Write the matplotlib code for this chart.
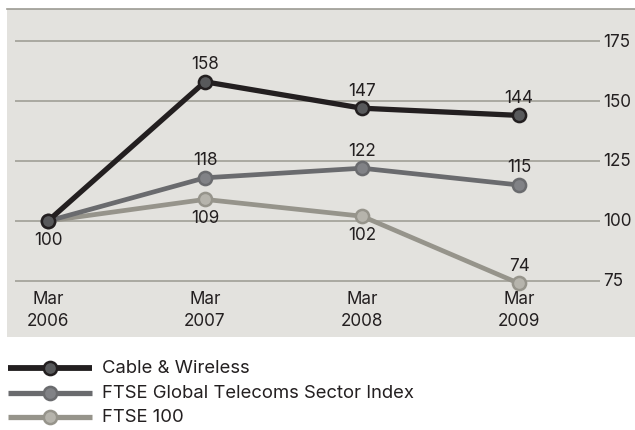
import matplotlib
matplotlib.use("Agg")
import matplotlib.pyplot as plt

plt.rcParams['font.family'] = ['Inter', 'DejaVu Sans']

periods = ["Mar\n2006", "Mar\n2007", "Mar\n2008", "Mar\n2009"]
series_names = ["Cable & Wireless", "FTSE Global Telecoms Sector Index", "FTSE 100"]
cable_wireless = [100, 158, 147, 144]
ftse_telecoms = [100, 118, 122, 115]
ftse_100 = [100, 109, 102, 74]
y_ticks = [75, 100, 125, 150, 175]
# label placement: +1 above marker, -1 below
label_pos = [
    [-1, 1, 1, 1],
    [0, 1, 1, 1],
    [0, -1, -1, 1],
]

line_colors = ["#231f20", "#6a6b6e", "#96948b"]
face_colors = ["#58595b", "#818286", "#b6b4ac"]
line_widths = [3.8, 3.4, 3.4]

FS = 12.3
W, H = 635, 431
fig = plt.figure(figsize=(W / 100, H / 100), dpi=100)
fig.patch.set_facecolor("white")

# main panel: pixel x 7..635, y 10..338
ax = fig.add_axes([7 / W, 1 - 338 / H, (W - 7) / W, (338 - 10) / H])
ax.set_facecolor("#e3e2de")
px_per_x = 157.0
x0px = 48 - 7
ax.set_xlim(-x0px / px_per_x, (W - 7 - x0px) / px_per_x)
px_per_y = 2.4
ax.set_ylim(100 - (338 - 222) / px_per_y, 100 + (222 - 10) / px_per_y)
for s in ["left", "right", "bottom"]:
    ax.spines[s].set_visible(False)
ax.spines["top"].set_color("#9c9b93")
ax.spines["top"].set_linewidth(1.2)
ax.set_xticks([])
ax.set_yticks([])

gx0 = (15 - 48) / px_per_x
gx1 = (600 - 48) / px_per_x
for t in y_ticks:
    ax.plot([gx0, gx1], [t, t], color="#a6a59c", lw=1.3, zorder=1, solid_capstyle="butt")
    ax.text(gx1 + 3 / px_per_x, t, str(t), ha="left", va="center", fontsize=FS, color="#231f20")

xs = list(range(len(periods)))
for i, p in enumerate(periods):
    ax.text(i, 100 - (300 - 222) / px_per_y, p.split("\n")[0], ha="center", va="center",
            fontsize=FS, color="#231f20")
    ax.text(i, 100 - (322 - 222) / px_per_y, p.split("\n")[1], ha="center", va="center",
            fontsize=FS, color="#231f20")

all_series = [cable_wireless, ftse_telecoms, ftse_100]
for k in [2, 1, 0]:
    vals = all_series[k]
    ax.plot(xs, vals, color=line_colors[k], lw=line_widths[k], marker="o", markersize=9.5,
            markerfacecolor=face_colors[k], markeredgecolor=line_colors[k], markeredgewidth=1.8,
            zorder=3 + (2 - k), solid_capstyle="butt")
    for i, v in enumerate(vals):
        pos = label_pos[k][i]
        if pos == 0:
            continue
        ax.annotate(str(v), (i, v), xytext=(0, 13 * pos), textcoords="offset points",
                    ha="center", va="center", fontsize=FS, color="#231f20", zorder=10)

# legend
lax = fig.add_axes([0, 0, 1, (H - 345) / H])
lax.set_xlim(0, W)
lax.set_ylim(H, 345)
lax.axis("off")
leg_y = [369, 394, 418]
for k in range(3):
    lax.plot([8, 92], [leg_y[k], leg_y[k]], color=line_colors[k], lw=line_widths[k] + 0.4,
             solid_capstyle="butt")
    lax.plot([50], [leg_y[k]], marker="o", markersize=9.5, markerfacecolor=face_colors[k],
             markeredgecolor=line_colors[k], markeredgewidth=1.8)
    lax.text(102, leg_y[k], series_names[k], ha="left", va="center", fontsize=13.3,
             color="#231f20")

fig.savefig("out.png", dpi=100)
